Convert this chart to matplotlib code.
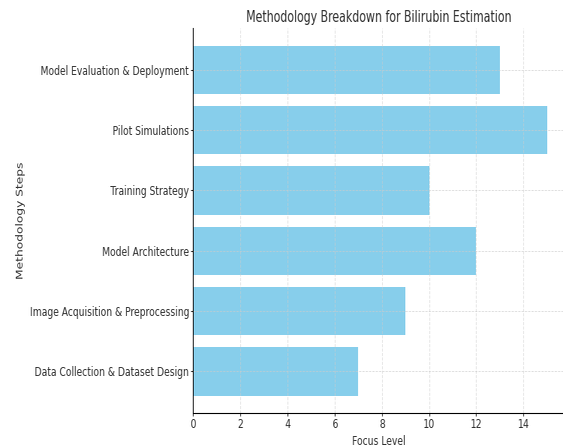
import io
import matplotlib
matplotlib.use("Agg")
import matplotlib.pyplot as plt
from PIL import Image

# Methodology steps (bottom to top) and how much focus each one gets
steps = [
    "Data Collection & Dataset Design",
    "Image Acquisition & Preprocessing",
    "Model Architecture",
    "Training Strategy",
    "Pilot Simulations",
    "Model Evaluation & Deployment",
]
focus = [7, 9, 12, 10, 15, 13]

# drawn wide, then squeezed down to the final size
W, H = 750, 446
OUT_W, OUT_H = 563, 446

fig = plt.figure(figsize=(W / 100, H / 100), dpi=100)
ax = fig.add_axes([0.343, 0.074, 0.66, 0.863])

ax.barh(steps, focus, color="skyblue")
ax.grid(True, linestyle="--", linewidth=0.6, color="#cccccc", alpha=0.7)

ax.set_title("Methodology Breakdown for Bilirubin Estimation", fontsize=10.5, color="#333333", pad=4.5)
ax.set_xlabel("Focus Level", fontsize=8.8, color="#333333", labelpad=3)
ax.set_ylabel("Methodology Steps", fontsize=8.8, color="#333333")
ax.tick_params(colors="#333333", labelsize=8.8, length=2, pad=1.8)
ax.spines["top"].set_visible(False)
ax.spines["right"].set_visible(False)

buf = io.BytesIO()
fig.savefig(buf, format="png", dpi=100)
buf.seek(0)
img = Image.open(buf).convert("RGB")
img = img.resize((OUT_W, OUT_H), Image.LANCZOS)
img.save("out.png")
